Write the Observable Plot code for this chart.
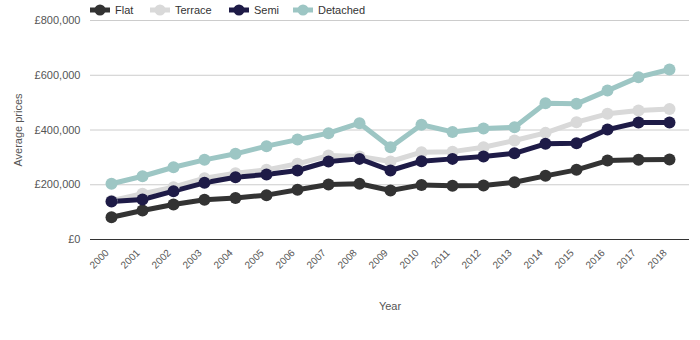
<!DOCTYPE html>
<html>
<head>
<meta charset="utf-8">
<script src="https://cdn.jsdelivr.net/npm/d3@7"></script>
<script src="https://cdn.jsdelivr.net/npm/@observablehq/plot@0.6"></script>
<style>
  html, body { margin: 0; padding: 0; background: #fff; }
  body { width: 700px; height: 340px; position: relative; font-family: "Liberation Sans", Arial, sans-serif; overflow: hidden; }
  #legend { position: absolute; left: 90px; top: 3px; display: flex; font-size: 11px; color: #333; }
  #legend .item { display: flex; align-items: center; margin-right: 0; }
  #legend svg { margin-right: 5px; }
  #chart { position: absolute; left: 0; top: 0; }
</style>
</head>
<body>
<div id="chart"></div>
<div id="legend"></div>
<script>
const years = ["2000","2001","2002","2003","2004","2005","2006","2007","2008","2009","2010","2011","2012","2013","2014","2015","2016","2017","2018"];
const seriesNames = ["Flat", "Terrace", "Semi", "Detached"];
const seriesColors = ["#333333", "#d9d9d9", "#1e1b47", "#9dc6c4"];
const flat = [81500,106000,128000,145000,152000,162000,181500,201000,203500,179000,199500,196000,197000,209000,232500,254500,288500,291000,292000];
const terrace = [142000,167000,191000,224000,242000,254500,276500,306500,303000,285000,319000,321000,337000,361500,389500,428500,459000,471000,477000];
const semi = [139000,146000,176500,207000,227500,237500,252000,285000,294500,252000,286000,294500,303000,315000,349500,352000,401500,427500,427500];
const detached = [203500,231000,264000,291000,313000,341000,365000,388500,425000,337000,419000,393000,405500,410000,498000,495500,544000,593000,621000];
const yTicks = [0, 200000, 400000, 600000, 800000];

const valuesBySeries = [flat, terrace, semi, detached];
const data = [];
seriesNames.forEach((s, i) => years.forEach((y, j) => data.push({series: s, year: y, value: valuesBySeries[i][j]})));

const fmt = d => "£" + d3.format(",")(d);

const chart = Plot.plot({
  width: 700,
  height: 340,
  marginLeft: 90,
  marginRight: 11,
  marginTop: 20,
  marginBottom: 101,
  style: { fontFamily: "Liberation Sans, Arial, sans-serif", fontSize: "11px", color: "#555", background: "#fff" },
  x: { type: "point", domain: years, padding: 0.5 },
  y: { domain: [0, 800000] },
  color: { domain: seriesNames, range: seriesColors },
  marks: [
    Plot.gridY(yTicks, { stroke: "#cccccc", strokeOpacity: 1 }),
    Plot.ruleY([0], { stroke: "#333" }),
    Plot.axisY(yTicks, { tickSize: 0, tickPadding: 10, tickFormat: fmt, label: "Average prices", labelAnchor: "center", labelOffset: 76, labelArrow: false, fill: "#555" }),
    Plot.axisX({ tickSize: 0, ticks: [], label: "Year", labelAnchor: "center", labelOffset: 70, labelArrow: false, fill: "#555" }),
    Plot.text(years, { x: d => d, frameAnchor: "bottom", dy: 14, dx: -2, rotate: -45, textAnchor: "end", fill: "#555", fontSize: 10 }),
    Plot.line(data, { x: "year", y: "value", z: "series", stroke: "series", strokeWidth: 5, strokeLinejoin: "round" }),
    Plot.dot(data, { x: "year", y: "value", fill: "series", r: 6 })
  ]
});
document.getElementById("chart").appendChild(chart);

const legend = document.getElementById("legend");
const legendLeft = [0, 60, 139, 203];
seriesNames.forEach((s, i) => {
  const item = document.createElement("div");
  item.className = "item";
  item.style.position = "absolute";
  item.style.left = legendLeft[i] + "px";
  item.innerHTML = `<svg width="20" height="14"><line x1="0" x2="20" y1="7" y2="7" stroke="${seriesColors[i]}" stroke-width="5"/><circle cx="10" cy="7" r="5.5" fill="${seriesColors[i]}"/></svg><span>${s}</span>`;
  legend.appendChild(item);
});
</script>
</body>
</html>
